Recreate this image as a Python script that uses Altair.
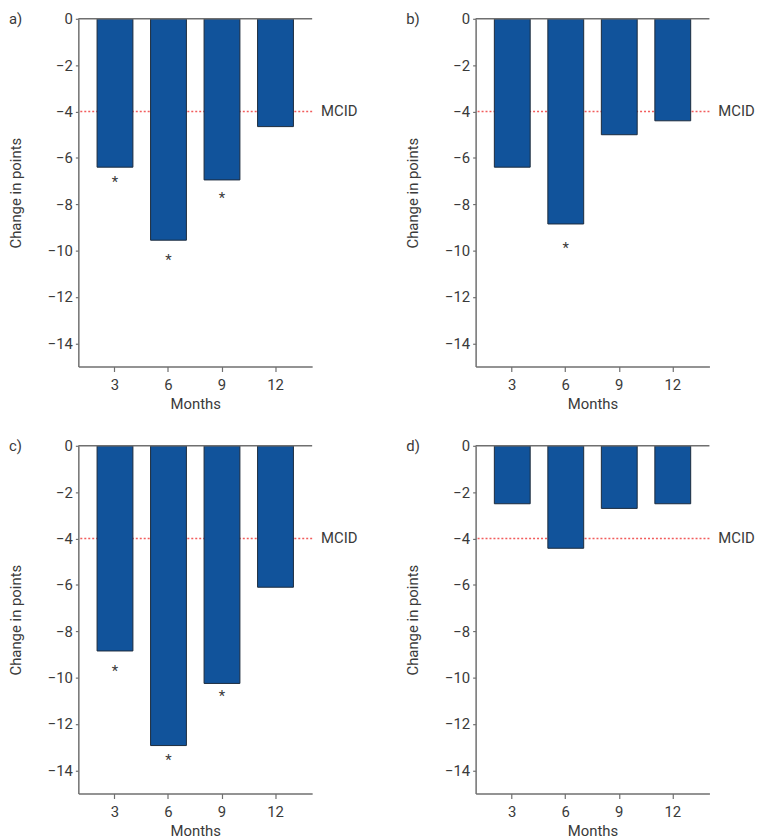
import altair as alt
import pandas as pd

months = ["3", "6", "9", "12"]

panel_labels = ["a)", "b)", "c)", "d)"]
values_a = [-6.4, -9.55, -6.95, -4.65]
values_b = [-6.4, -8.85, -5.0, -4.4]
values_c = [-8.85, -12.93, -10.25, -6.1]
values_d = [-2.5, -4.42, -2.7, -2.5]

# asterisk (significance) marks: month and vertical position
stars_a_month = ["3", "6", "9"]
stars_a_pos = [-6.9, -10.27, -7.6]
stars_b_month = ["6"]
stars_b_pos = [-9.75]
stars_c_month = ["3", "6", "9"]
stars_c_pos = [-9.58, -13.43, -10.65]
stars_d_month = []
stars_d_pos = []

mcid_value = -4
mcid_label = "MCID"
y_ticks = [-14, -12, -10, -8, -6, -4, -2, 0]

W, H = 236, 351
FONT = "Roboto"
TXT = "#3a3a3a"
AX = "#6f6f6f"
BAR = "#11539b"
BAR_EDGE = "#1c2b3c"
RED = "#f04040"


def panel(label, vals, star_m, star_p):
    df = pd.DataFrame({"month": months, "value": vals})
    xenc = alt.X(
        "month:O",
        sort=months,
        scale=alt.Scale(paddingInner=0.33, paddingOuter=0.35),
        axis=alt.Axis(
            title="Months", labelAngle=0, tickSize=5, labelPadding=6,
            titlePadding=4, grid=False,
        ),
    )
    yscale = alt.Scale(domain=[-15, 0], nice=False, zero=False)
    yaxis = alt.Axis(
        values=y_ticks, tickSize=3, grid=False, title="Change in points",
        titlePadding=24, labelPadding=3,
    )
    mcid_df = pd.DataFrame({"y": [mcid_value], "t": [mcid_label]})
    mcid_rule = alt.Chart(mcid_df).mark_rule(
        color=RED, strokeDash=[2, 2], strokeWidth=1.5, opacity=0.85
    ).encode(y=alt.Y("y:Q", scale=yscale, axis=yaxis))
    bars = alt.Chart(df).mark_bar(
        color=BAR, stroke=BAR_EDGE, strokeWidth=1
    ).encode(x=xenc, y=alt.Y("value:Q", scale=yscale, axis=yaxis))
    zero = alt.Chart(pd.DataFrame({"y": [0]})).mark_rule(
        color=AX, strokeWidth=1.5
    ).encode(y=alt.Y("y:Q", scale=yscale))
    mcid_text = alt.Chart(mcid_df).mark_text(
        align="left", baseline="middle", fontSize=15, font=FONT, color=TXT
    ).encode(x=alt.value(W + 9), y=alt.Y("y:Q", scale=yscale), text="t:N")
    lab = alt.Chart(pd.DataFrame({"t": [label]})).mark_text(
        align="left", baseline="middle", fontSize=15, font=FONT, color=TXT
    ).encode(x=alt.value(-70), y=alt.value(0), text="t:N")
    layers = [mcid_rule, bars, zero, mcid_text, lab]
    if star_m:
        sdf = pd.DataFrame({"month": star_m, "pos": star_p})
        stars = alt.Chart(sdf).mark_text(
            text="*", fontSize=15, font=FONT, color=TXT, baseline="middle", dy=3
        ).encode(x=alt.X("month:O", sort=months), y=alt.Y("pos:Q", scale=yscale))
        layers.append(stars)
    return alt.layer(*layers).properties(width=W, height=H)


a = panel(panel_labels[0], values_a, stars_a_month, stars_a_pos)
b = panel(panel_labels[1], values_b, stars_b_month, stars_b_pos)
c = panel(panel_labels[2], values_c, stars_c_month, stars_c_pos)
d = panel(panel_labels[3], values_d, stars_d_month, stars_d_pos)

chart = alt.vconcat(
    alt.hconcat(a, b, spacing=48),
    alt.hconcat(c, d, spacing=48),
    spacing=28,
).properties(
    padding={"left": 0, "top": 0, "right": 0, "bottom": 0}
).configure_view(stroke=None).configure_axis(
    domainColor=AX, tickColor=AX, domainWidth=1.5, tickWidth=1.2,
    labelFont=FONT, titleFont=FONT, labelFontSize=15, titleFontSize=15,
    labelColor=TXT, titleColor=TXT, titleFontWeight="normal",
)

chart.save("out.html", embed_options={"renderer": "svg", "actions": False})
